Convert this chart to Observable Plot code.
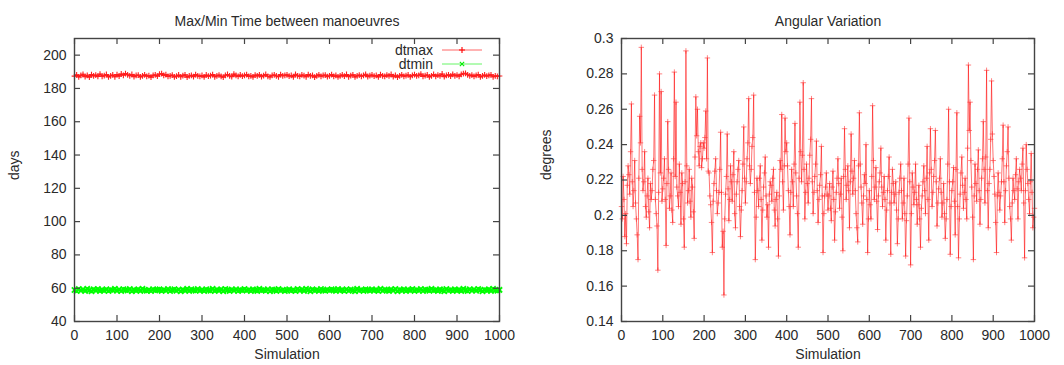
<!DOCTYPE html>
<html><head><meta charset="utf-8">
<script src="https://cdn.jsdelivr.net/npm/d3@7"></script>
<script src="https://cdn.jsdelivr.net/npm/@observablehq/plot@0.6"></script>
<style>
body{margin:0;background:#fff;}
#wrap{position:relative;width:1064px;height:365px;overflow:hidden;}
#wrap svg{position:absolute;top:0;}
</style>
</head><body><div id="wrap"></div>
<script>
// ---- data ----
// dtmax / dtmin: simulations 0,5,10,...,1000
const dtmax = [
187.4,188.2,186.9,187.8,188.5,187.1,187.9,186.8,188.3,187.5,188.0,187.2,188.6,187.3,187.7,188.4,186.9,187.6,188.1,187.0,
188.3,187.4,188.7,187.9,188.9,188.2,187.6,188.4,187.1,187.8,188.0,186.9,187.5,188.2,187.3,187.7,186.8,187.9,188.1,187.4,
188.6,188.9,187.8,188.3,187.2,187.6,188.0,186.9,187.4,188.1,187.0,187.7,188.2,186.8,187.5,187.9,187.1,188.3,187.6,187.2,
187.8,186.9,188.1,187.4,187.7,188.3,187.0,187.6,188.0,187.3,186.8,187.9,188.4,187.5,187.1,188.6,187.8,187.2,188.1,187.4,
187.9,188.3,187.2,187.6,186.9,188.0,187.5,188.2,187.1,187.7,188.4,187.3,186.9,187.8,188.1,187.5,187.0,188.3,187.6,187.9,
188.2,187.4,187.8,186.9,188.5,187.6,187.2,188.1,187.7,187.0,188.3,187.5,187.9,186.8,187.6,188.2,187.3,187.8,188.0,187.1,
187.6,188.3,187.2,187.9,186.9,187.5,188.1,187.4,188.4,187.0,187.7,188.2,186.9,187.6,188.0,187.3,187.8,188.5,187.1,187.7,
188.1,187.4,187.8,186.9,188.3,187.6,187.2,188.0,187.5,188.4,187.1,187.9,186.8,187.6,188.2,187.3,187.7,188.1,187.0,187.8,
188.3,187.5,187.9,188.6,187.2,187.7,188.1,186.9,187.6,188.4,187.3,188.0,187.5,188.7,187.1,187.8,188.2,187.4,188.5,187.6,
188.0,187.3,188.4,188.9,189.1,188.2,187.6,188.0,187.2,187.8,188.3,186.9,187.5,188.1,187.4,187.9,188.2,187.0,187.6,187.3,
187.5];
const dtmin = [
58.9,58.3,59.5,58.6,59.2,58.4,59.6,58.8,58.2,59.3,58.7,59.5,58.4,59.0,58.6,59.4,58.3,59.1,58.8,59.6,
58.5,59.2,58.3,59.4,58.9,58.6,59.5,58.2,59.0,58.7,59.3,58.4,59.6,58.8,58.5,59.1,58.3,59.4,58.7,59.0,
59.3,58.4,59.1,58.6,59.5,58.3,58.9,59.4,58.5,59.2,58.2,59.0,58.7,59.6,58.4,59.3,58.8,58.5,59.5,58.6,
59.0,58.3,59.4,58.8,58.5,59.6,58.4,59.1,58.7,59.3,58.2,59.5,58.9,58.4,59.2,58.6,59.4,58.3,59.0,58.7,
59.5,58.6,59.1,58.3,59.3,58.8,58.4,59.6,58.7,59.0,58.5,59.4,58.2,59.2,58.9,58.4,59.5,58.6,59.1,58.3,
58.8,59.4,58.5,59.0,58.3,59.5,58.7,59.2,58.4,59.6,58.9,58.2,59.3,58.6,59.1,58.4,59.5,58.8,58.5,59.2,
58.6,59.3,58.9,58.4,59.5,58.7,59.0,58.3,59.4,58.5,59.2,58.8,58.2,59.6,58.6,59.1,58.4,59.3,58.9,58.5,
59.4,58.7,59.0,58.3,59.6,58.5,59.2,58.8,58.4,59.3,58.6,59.5,58.2,59.1,58.7,59.4,58.3,59.0,58.8,59.5,
58.4,59.1,58.6,59.5,58.3,59.2,58.9,58.5,59.6,58.7,59.0,58.4,59.3,58.8,58.2,59.5,58.6,59.1,58.4,59.3,
58.7,59.0,58.4,59.6,58.8,58.3,59.4,58.6,59.2,58.5,59.5,58.9,58.2,59.1,58.7,59.3,58.4,59.6,58.8,58.5,
59.0];
// angular variation at simulations 0,4,8,...,1000
const angularA = [
0.205,0.222,0.188,0.184,0.228,0.212,0.263,0.205,0.231,0.198,0.175,0.256,0.295,0.214,0.236,0.199,0.221,0.193,0.209,0.226,0.268,0.201,0.169,0.280,0.270,
0.215,0.232,0.183,0.253,0.204,0.224,0.196,0.281,0.264,0.211,0.229,0.195,0.218,0.182,0.293,0.207,0.226,0.199,0.216,0.187,0.267,0.260,0.228,0.241,0.232,
0.238,0.259,0.289,0.224,0.206,0.179,0.218,0.232,0.201,0.213,0.247,0.182,0.155,0.212,0.246,0.197,0.228,0.208,0.236,0.193,0.219,0.231,0.188,0.214,0.250,
0.207,0.232,0.266,0.218,0.239,0.268,0.175,0.221,0.205,0.228,0.186,0.216,0.233,0.199,0.182,0.219,0.208,0.226,0.194,0.213,0.177,0.231,0.257,0.203,0.255,
0.241,0.214,0.189,0.226,0.205,0.252,0.211,0.182,0.264,0.219,0.275,0.198,0.229,0.207,0.234,0.266,0.201,0.222,0.242,0.196,0.217,0.239,0.179,0.211,0.224,
0.203,0.218,0.197,0.225,0.186,0.213,0.232,0.204,0.221,0.180,0.249,0.209,0.228,0.193,0.246,0.212,0.231,0.201,0.185,0.258,0.216,0.195,0.223,0.240,0.179,
0.214,0.198,0.262,0.209,0.227,0.192,0.219,0.238,0.205,0.222,0.186,0.214,0.233,0.178,0.226,0.207,0.219,0.184,0.213,0.229,0.198,0.221,0.177,0.211,0.255,
0.172,0.224,0.206,0.229,0.195,0.217,0.182,0.211,0.228,0.201,0.239,0.186,0.249,0.205,0.222,0.248,0.194,0.215,0.232,0.199,0.218,0.187,0.209,0.260,0.178,
0.214,0.227,0.189,0.258,0.176,0.212,0.233,0.204,0.221,0.198,0.285,0.264,0.216,0.175,0.229,0.208,0.237,0.195,0.221,0.253,0.207,0.282,0.193,0.226,0.276,
0.231,0.212,0.179,0.224,0.203,0.219,0.251,0.196,0.228,0.250,0.205,0.186,0.221,0.209,0.232,0.198,0.226,0.214,0.238,0.176,0.240,0.218,0.201,0.235,0.193,
0.204];
// angular variation at simulations 2,6,10,...,998
const angularB = [
0.198,0.209,0.201,0.217,0.223,0.236,0.219,0.214,0.207,0.189,0.221,0.241,0.226,0.219,0.205,0.211,0.202,0.218,0.214,0.231,0.209,0.194,0.213,0.224,0.208,
0.221,0.209,0.218,0.226,0.211,0.203,0.232,0.222,0.216,0.205,0.213,0.224,0.198,0.219,0.228,0.214,0.208,0.221,0.202,0.233,0.245,0.236,0.239,0.227,0.241,
0.244,0.232,0.225,0.211,0.196,0.208,0.225,0.214,0.207,0.226,0.213,0.191,0.198,0.222,0.215,0.209,0.219,0.223,0.201,0.212,0.226,0.205,0.203,0.229,0.221,
0.219,0.241,0.228,0.226,0.244,0.213,0.199,0.214,0.221,0.209,0.203,0.224,0.211,0.206,0.212,0.217,0.221,0.203,0.209,0.198,0.211,0.226,0.219,0.228,0.236,
0.228,0.205,0.213,0.219,0.229,0.224,0.201,0.221,0.236,0.234,0.226,0.213,0.218,0.221,0.243,0.219,0.213,0.229,0.214,0.209,0.223,0.211,0.201,0.216,0.212,
0.211,0.204,0.216,0.209,0.202,0.221,0.218,0.212,0.199,0.222,0.226,0.217,0.214,0.219,0.225,0.221,0.214,0.193,0.228,0.229,0.207,0.211,0.218,0.209,0.198,
0.206,0.222,0.231,0.216,0.208,0.211,0.224,0.216,0.213,0.209,0.203,0.222,0.207,0.213,0.218,0.212,0.203,0.198,0.221,0.214,0.207,0.201,0.197,0.229,0.219,
0.201,0.216,0.213,0.209,0.206,0.198,0.204,0.219,0.214,0.221,0.209,0.224,0.226,0.213,0.231,0.219,0.207,0.221,0.213,0.207,0.201,0.198,0.229,0.219,0.205,
0.219,0.208,0.226,0.205,0.198,0.224,0.217,0.213,0.209,0.238,0.248,0.231,0.199,0.211,0.218,0.226,0.214,0.209,0.232,0.226,0.233,0.214,0.218,0.243,0.246,
0.222,0.196,0.211,0.213,0.211,0.232,0.219,0.214,0.236,0.221,0.198,0.207,0.214,0.223,0.215,0.219,0.221,0.229,0.207,0.214,0.226,0.209,0.219,0.213,0.199];
const dtSims = d3.range(0, 1001, 5);
const simsA = d3.range(0, 1001, 4);
const simsB = d3.range(2, 1000, 4);
const xTicks = [0,100,200,300,400,500,600,700,800,900,1000];
const daysTicks = [40,60,80,100,120,140,160,180,200];
const degTicks = [0.14,0.16,0.18,0.2,0.22,0.24,0.26,0.28,0.3];

const maxData = dtmax.map((v, i) => ({sim: dtSims[i], v}));
const minData = dtmin.map((v, i) => ({sim: dtSims[i], v}));
const angData = [
  ...angularA.map((v, i) => ({sim: simsA[i], v})),
  ...angularB.map((v, i) => ({sim: simsB[i], v}))
].sort((a, b) => a.sim - b.sim);

const W = 532, H = 365;
const FONT = "'Liberation Sans', Arial, Helvetica, sans-serif";
const AX = "#444";
const TXT = "#2a2a2a";

function panel({mL, mR, mT, mB, yDomain, yTicks, title, ylabel, marks}) {
  const fw = W - mL - mR, fh = H - mT - mB, t = 6;
  return Plot.plot({
    width: W, height: H,
    marginLeft: mL, marginRight: mR, marginTop: mT, marginBottom: mB,
    style: {fontFamily: FONT, fontSize: "14px", color: TXT, background: "transparent"},
    x: {domain: [0, 1000]},
    y: {domain: yDomain},
    marks: [
      ...marks,
      Plot.frame({stroke: AX, strokeWidth: 1.4}),
      Plot.tickY(yTicks, {y: d => d, insetRight: fw - t, stroke: AX, strokeWidth: 1.2}),
      Plot.tickY(yTicks, {y: d => d, insetLeft: fw - t, stroke: AX, strokeWidth: 1.2}),
      Plot.tickX(xTicks, {x: d => d, insetTop: fh - t, stroke: AX, strokeWidth: 1.2}),
      Plot.tickX(xTicks, {x: d => d, insetBottom: fh - t, stroke: AX, strokeWidth: 1.2}),
      Plot.axisX({ticks: xTicks, tickSize: 0, tickPadding: 9, label: null, tickFormat: d => String(d)}),
      Plot.axisY({ticks: yTicks, tickSize: 0, tickPadding: 8, label: null, tickFormat: d => String(d)}),
      Plot.text([title], {frameAnchor: "top", dy: -22, fill: TXT}),
      Plot.text(["Simulation"], {frameAnchor: "bottom", dy: 37, fill: TXT}),
      Plot.text([ylabel], {frameAnchor: "left", dx: -(mL - 14), rotate: -90, fill: TXT})
    ]
  });
}

const left = panel({
  mL: 74, mR: 33, mT: 38, mB: 44,
  yDomain: [40, 210], yTicks: daysTicks,
  title: "Max/Min Time between manoeuvres", ylabel: "days",
  marks: [
    Plot.line(minData, {x: "sim", y: "v", stroke: "#00ff00", strokeWidth: 2.2}),
    Plot.dot(minData, {x: "sim", y: "v", symbol: "times", r: 2.5, fill: "none", stroke: "#00ff00", strokeWidth: 1.8}),
    Plot.line(maxData, {x: "sim", y: "v", stroke: "#ff0000", strokeWidth: 1.3}),
    Plot.dot(maxData, {x: "sim", y: "v", symbol: "plus", r: 2, fill: "none", stroke: "#ff2020", strokeWidth: 1.1})
  ]
});
left.style.left = "0px";

const right = panel({
  mL: 89, mR: 30, mT: 38, mB: 44,
  yDomain: [0.14, 0.3], yTicks: degTicks,
  title: "Angular Variation", ylabel: "degrees",
  marks: [
    Plot.line(angData, {x: "sim", y: "v", stroke: "#ff0000", strokeWidth: 1, strokeOpacity: 0.55}),
    Plot.dot(angData, {x: "sim", y: "v", symbol: "plus", r: 1.9, fill: "none", stroke: "#ff3030", strokeWidth: 1, strokeOpacity: 0.6})
  ]
});
right.style.left = "532px";

const wrap = document.getElementById("wrap");
wrap.appendChild(left);
wrap.appendChild(right);

// legend (inside the left frame, top right)
const legendItems = [
  {label: "dtmax", color: "#ff0000", sym: d3.symbolPlus},
  {label: "dtmin", color: "#00ee00", sym: d3.symbolTimes}
];
const leg = d3.create("svg").attr("width", 532).attr("height", 80).style("left", "0px")
  .attr("font-family", FONT).attr("font-size", 14);
legendItems.forEach((it, i) => {
  const y = 50 + i * 14;
  leg.append("text").attr("x", 433).attr("y", y).attr("dy", "0.35em")
    .attr("text-anchor", "end").attr("fill", TXT).text(it.label);
  leg.append("line").attr("x1", 442).attr("x2", 482).attr("y1", y).attr("y2", y)
    .attr("stroke", it.color).attr("stroke-width", 1).attr("stroke-opacity", 0.6);
  leg.append("path").attr("d", d3.symbol(it.sym, 14)()).attr("transform", `translate(462,${y})`)
    .attr("fill", "none").attr("stroke", it.color).attr("stroke-width", 1.1);
});
wrap.appendChild(leg.node());
</script>
</body></html>
